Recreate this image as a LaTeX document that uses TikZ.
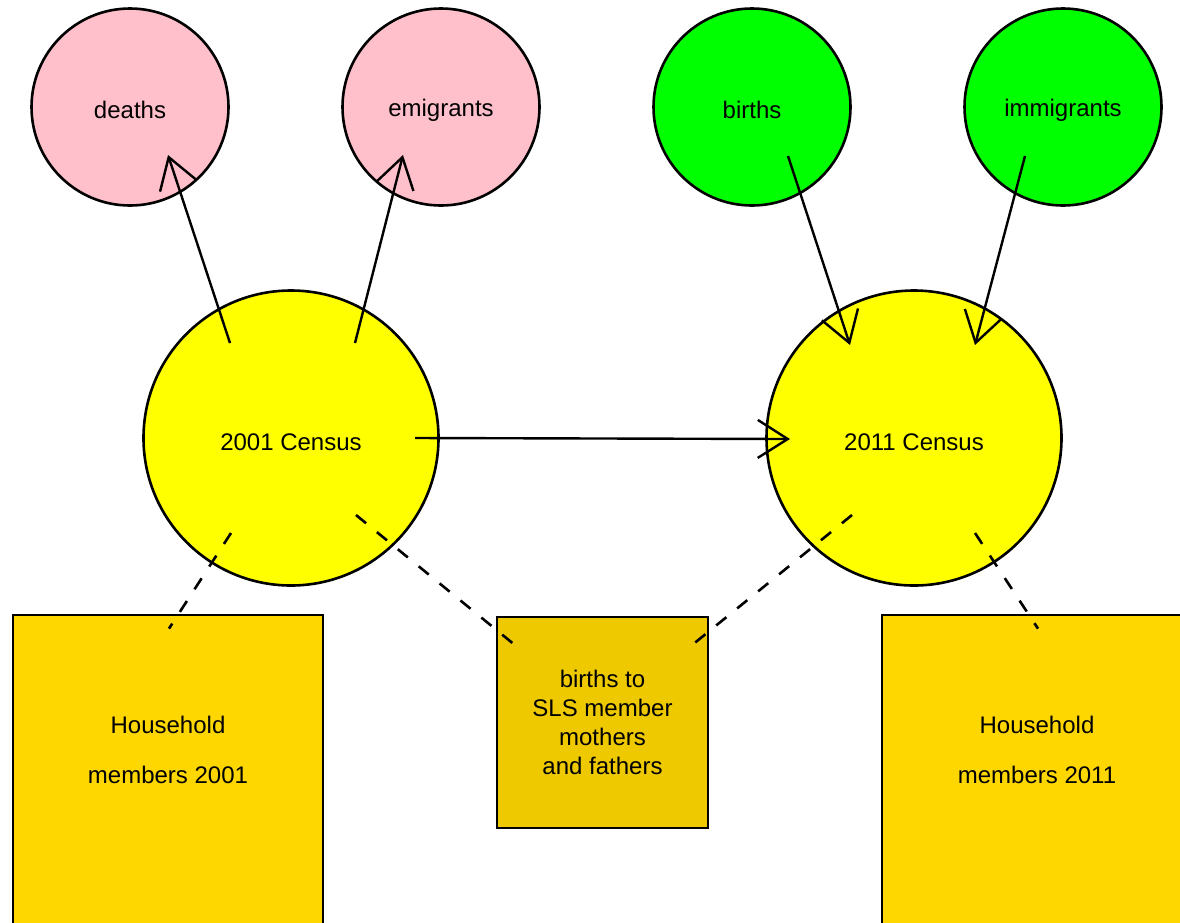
\documentclass[tikz,border=0pt]{standalone}
\usepackage{fontspec}
\setmainfont{Liberation Sans}
\usetikzlibrary{arrows.meta,calc}
\definecolor{pinkc}{RGB}{255,192,203}
\definecolor{greenc}{RGB}{0,255,0}
\definecolor{yellowc}{RGB}{255,255,0}
\definecolor{goldc}{RGB}{255,215,0}
\definecolor{goldtwo}{RGB}{238,201,0}
\begin{document}
\begin{tikzpicture}[x=1pt,y=-1pt,
  smallc/.style={circle, draw=black, line width=2.6pt, minimum size=197pt, inner sep=0pt},
  bigc/.style={circle, draw=black, line width=2.6pt, fill=yellowc, minimum size=295pt, inner sep=0pt},
  txt/.style={font=\fontsize{24}{29}\selectfont, inner sep=0pt},
  arr/.style={line width=2.4pt, -{Straight Barb[length=30pt,width=38pt]}},
  dsh/.style={line width=2.6pt, dash pattern=on 13pt off 14pt},
  boxn/.style={draw=black, line width=2.8pt, rectangle, inner sep=0pt}]
\useasboundingbox (0,0) rectangle (1180,922);
\clip (0,0) rectangle (1180,922);
\fill[white] (0,0) rectangle (1180,922);

% small circles
\node[smallc, fill=pinkc] (deaths) at (130,107) {};
\node[smallc, fill=pinkc] (emig) at (441,107) {};
\node[smallc, fill=greenc] (births) at (752,107) {};
\node[smallc, fill=greenc] (immig) at (1063,107) {};
\node[txt, anchor=base] (deathsT) at ($(deaths)+(0,11)$) {deaths};
\node[txt, anchor=base] (emigT) at ($(emig)+(0,9)$) {emigrants};
\node[txt, anchor=base] (birthsT) at ($(births)+(0,11)$) {births};
\node[txt, anchor=base] (immigT) at ($(immig)+(0,9)$) {immigrants};

% census circles
\node[bigc] (c01) at (291,438) {};
\node[bigc] (c11) at (914,438) {};
\node[txt, anchor=base] (c01T) at ($(c01)+(0,12)$) {2001 Census};
\node[txt, anchor=base] (c11T) at ($(c11)+(0,12)$) {2011 Census};

% boxes
\node[boxn, fill=goldc, minimum width=310pt, minimum height=400pt] (h1) at (168,815) {};
\node[boxn, fill=goldc, minimum width=310pt, minimum height=400pt] (h2) at (1037,815) {};
\node[txt, anchor=north, align=center, font=\fontsize{24}{50}\selectfont] (h1T) at (168,715.5) {Household\\members 2001};
\node[txt, anchor=north, align=center, font=\fontsize{24}{50}\selectfont] (h2T) at (1037,715.5) {Household\\members 2011};
\node[boxn, fill=goldtwo, minimum width=211pt, minimum height=211pt, align=center, font=\fontsize{24}{29}\selectfont] (mid) at (602.5,722.5) {births to\\SLS member\\mothers\\and fathers};

% arrow end points
\coordinate (a1s) at ($(c01)+(-61,-95)$);
\coordinate (a1e) at ($(deaths)+(38,48)$);
\coordinate (a2s) at ($(c01)+(64,-95)$);
\coordinate (a2e) at ($(emig)+(-38,48)$);
\coordinate (a3s) at ($(births)+(36,49)$);
\coordinate (a3e) at ($(c11)+(-64,-93)$);
\coordinate (a4s) at ($(immig)+(-38,49)$);
\coordinate (a4e) at ($(c11)+(61,-93)$);
\coordinate (a5s) at ($(c01)+(124,0)$);
\coordinate (a5e) at ($(c11)+(-124,1)$);

\draw[arr] (a1s) -- (a1e);
\draw[arr] (a2s) -- (a2e);
\draw[arr] (a3s) -- (a3e);
\draw[arr] (a4s) -- (a4e);
\draw[arr] (a5s) -- (a5e);

% dashed links
\coordinate (d1s) at ($(c01)+(-60,95)$);
\coordinate (d1e) at ($(h1.north)+(1,15)$);
\coordinate (d2s) at ($(c01)+(65,77)$);
\coordinate (d2e) at ($(mid.north west)+(20,30)$);
\coordinate (d3s) at ($(c11)+(-62,77)$);
\coordinate (d3e) at ($(mid.north east)+(-18,30)$);
\coordinate (d4s) at ($(c11)+(61,95)$);
\coordinate (d4e) at ($(h2.north)+(1,15)$);
\draw[dsh] (d1s) -- (d1e);
\draw[dsh] (d2s) -- (d2e);
\draw[dsh] (d3s) -- (d3e);
\draw[dsh] (d4s) -- (d4e);
\end{tikzpicture}
\end{document}
